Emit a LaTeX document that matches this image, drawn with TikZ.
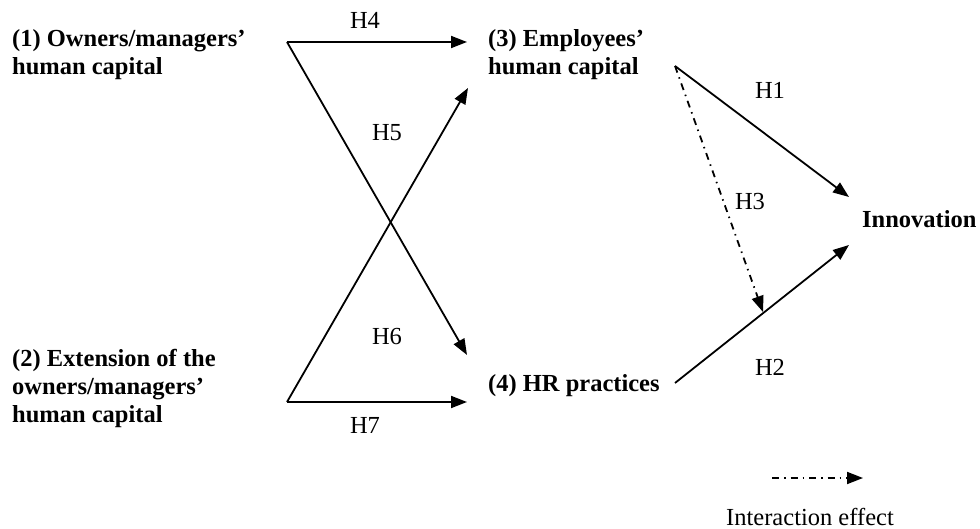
\documentclass[tikz,border=0pt]{standalone}
\usepackage{fontspec}
\setmainfont{Liberation Serif}
\usetikzlibrary{arrows.meta}

\begin{document}
\begin{tikzpicture}[
    x=1pt, y=-1pt,
    factor/.style={font=\fontsize{24.5}{28}\selectfont\bfseries, align=left, anchor=west, inner sep=0pt},
    hyp/.style={font=\fontsize{24.5}{28}\selectfont, inner sep=0pt},
    effect/.style={line width=1.8pt,-{Triangle[length=16pt,width=12pt]}},
    interaction/.style={effect, dash pattern=on 7pt off 5pt on 1.5pt off 5pt}
]
\useasboundingbox (0,0) rectangle (980,529);

% =========================
% FACTORS
% =========================
\node[factor] (owners) at (12,55) {(1) Owners/managers’\\human capital};
\node[factor] (extension) at (12,388) {(2) Extension of the\\owners/managers’\\human capital};
\node[factor] (employees) at (488,55) {(3) Employees’\\human capital};
\node[factor] (hr) at (488,386) {(4) HR practices};
\node[factor] (innovation) at (862,219) {Innovation};

% =========================
% ARROW ENDS
% =========================
\coordinate (o1) at (287,42);
\coordinate (o2) at (287,402);
\coordinate (o3) at (675,66);
\coordinate (o4) at (675,383);

\coordinate (e3a) at (467,42);
\coordinate (e3b) at (468,88);
\coordinate (e4a) at (467,355);
\coordinate (e4b) at (467,402);
\coordinate (ei1) at (849,197);
\coordinate (ei2) at (849,245);
\coordinate (eh2) at (763,312);

% =========================
% HYPOTHESES
% =========================
\draw[effect] (o1) -- (e3a);
\draw[effect] (o1) -- (e4a);
\draw[effect] (o2) -- (e3b);
\draw[effect] (o2) -- (e4b);
\draw[effect] (o3) -- (ei1);
\draw[effect] (o4) -- (ei2);
\draw[interaction] (o3) -- (eh2);

% labels
\node[hyp] (h1) at (770,90) {H1};
\node[hyp] (h2) at (770,367) {H2};
\node[hyp] (h3) at (750,202) {H3};
\node[hyp] (h4) at (365,20) {H4};
\node[hyp] (h5) at (387,133) {H5};
\node[hyp] (h6) at (387,337) {H6};
\node[hyp] (h7) at (365,425) {H7};

% =========================
% LEGEND
% =========================
\coordinate (k1) at (772,478);
\coordinate (k2) at (863,478);
\draw[interaction] (k1) -- (k2);
\node[hyp] (key) at (810,517) {Interaction effect};
\end{tikzpicture}
\end{document}
